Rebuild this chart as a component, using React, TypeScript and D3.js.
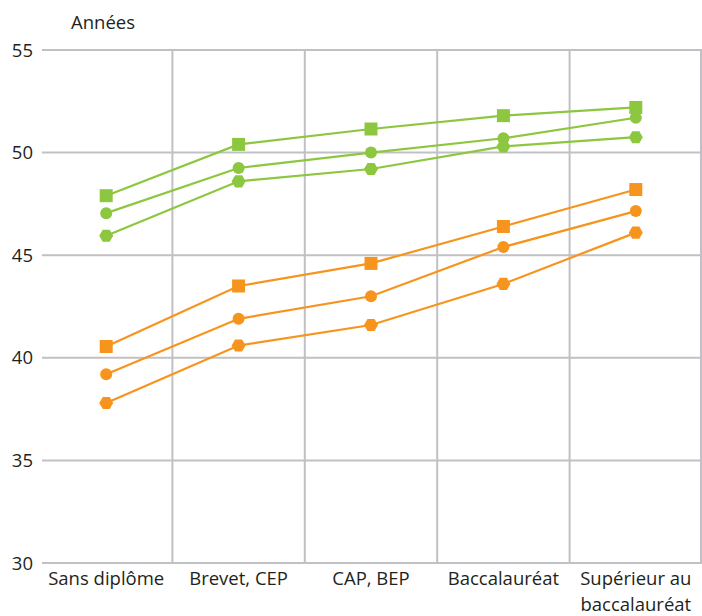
import { useEffect, useRef } from 'react';
import * as d3 from 'd3';

const categories = ['Sans diplôme', 'Brevet, CEP', 'CAP, BEP', 'Baccalauréat', 'Supérieur au baccalauréat'];
const categoryLines = [['Sans diplôme'], ['Brevet, CEP'], ['CAP, BEP'], ['Baccalauréat'], ['Supérieur au', 'baccalauréat']];
const yTicks = [30, 35, 40, 45, 50, 55];

const greenSquare = [47.9, 50.4, 51.15, 51.8, 52.2];
const greenCircle = [47.05, 49.25, 50.0, 50.7, 51.7];
const greenHex = [45.95, 48.6, 49.2, 50.3, 50.75];
const orangeSquare = [40.55, 43.5, 44.6, 46.4, 48.2];
const orangeCircle = [39.2, 41.9, 43.0, 45.4, 47.15];
const orangeHex = [37.8, 40.6, 41.6, 43.6, 46.1];

const GREEN = '#8dc63f';
const ORANGE = '#f7941d';

const series = [
  { values: greenSquare, color: GREEN, shape: 'square' },
  { values: greenCircle, color: GREEN, shape: 'circle' },
  { values: greenHex, color: GREEN, shape: 'hex' },
  { values: orangeSquare, color: ORANGE, shape: 'square' },
  { values: orangeCircle, color: ORANGE, shape: 'circle' },
  { values: orangeHex, color: ORANGE, shape: 'hex' },
];

function hexPath(r: number) {
  const pts = d3.range(6).map((i) => {
    const a = (Math.PI / 3) * i;
    return [r * Math.cos(a), r * Math.sin(a)];
  });
  return 'M' + pts.map((p) => p.join(',')).join('L') + 'Z';
}

export default function App() {
  const svgRef = useRef<SVGSVGElement | null>(null);

  useEffect(() => {
    document.body.style.margin = '0';
    if (!svgRef.current) return;
    const svg = d3.select(svgRef.current);
    svg.selectAll('*').remove();

    const width = 702;
    const height = 616;
    const left = 40;
    const top = 50;
    const bottom = 563;
    const font = '"Open Sans", sans-serif';
    const fs = 18.5;

    const x = d3.scaleBand().domain(categories).range([left, 702]);
    const y = d3.scaleLinear().domain([30, 55]).range([bottom, top]);
    const cx = (c: string) => x(c)! + x.bandwidth() / 2;

    svg.attr('width', width).attr('height', height).style('display', 'block');

    const grid = svg.append('g').attr('stroke', '#c1c1c5').attr('stroke-width', 2);
    grid
      .selectAll('line.h')
      .data(yTicks)
      .join('line')
      .attr('x1', left + 2)
      .attr('x2', width)
      .attr('y1', (d) => y(d))
      .attr('y2', (d) => y(d));
    grid
      .selectAll('line.v')
      .data(categories.slice(1))
      .join('line')
      .attr('x1', (d) => x(d)!)
      .attr('x2', (d) => x(d)!)
      .attr('y1', top)
      .attr('y2', bottom);
    grid
      .append('line')
      .attr('x1', 701)
      .attr('x2', 701)
      .attr('y1', top)
      .attr('y2', bottom);

    svg
      .append('g')
      .selectAll('text')
      .data(yTicks)
      .join('text')
      .attr('x', 33)
      .attr('y', (d) => y(d) + 6.5)
      .attr('text-anchor', 'end')
      .attr('font-family', font)
      .attr('font-size', fs)
      .attr('fill', '#231f20')
      .text((d) => d);

    svg
      .append('text')
      .attr('x', 71)
      .attr('y', 29)
      .attr('font-family', font)
      .attr('font-size', fs)
      .attr('fill', '#231f20')
      .text('Années');

    categories.forEach((c, ci) => {
      categoryLines[ci].forEach((ln, li) => {
        svg
          .append('text')
          .attr('x', cx(c))
          .attr('y', 585 + li * 25.5)
          .attr('text-anchor', 'middle')
          .attr('font-family', font)
          .attr('font-size', fs)
          .attr('fill', '#231f20')
          .text(ln);
      });
    });

    const line = d3
      .line<number>()
      .x((_, i) => cx(categories[i]))
      .y((d) => y(d));

    series.forEach((s) => {
      const g = svg.append('g');
      g.append('path')
        .attr('d', line(s.values))
        .attr('fill', 'none')
        .attr('stroke', s.color)
        .attr('stroke-width', 2.2);
      const marks = g
        .selectAll('.m')
        .data(s.values)
        .join(s.shape === 'circle' ? 'circle' : 'path')
        .attr('fill', s.color)
        .attr('transform', (d, i) => `translate(${cx(categories[i])},${y(d)})`);
      if (s.shape === 'circle') marks.attr('r', 6);
      else if (s.shape === 'square') marks.attr('d', 'M-6.5,-6.5H6.5V6.5H-6.5Z');
      else marks.attr('d', hexPath(7));
    });
  }, []);

  return <svg ref={svgRef} />;
}
